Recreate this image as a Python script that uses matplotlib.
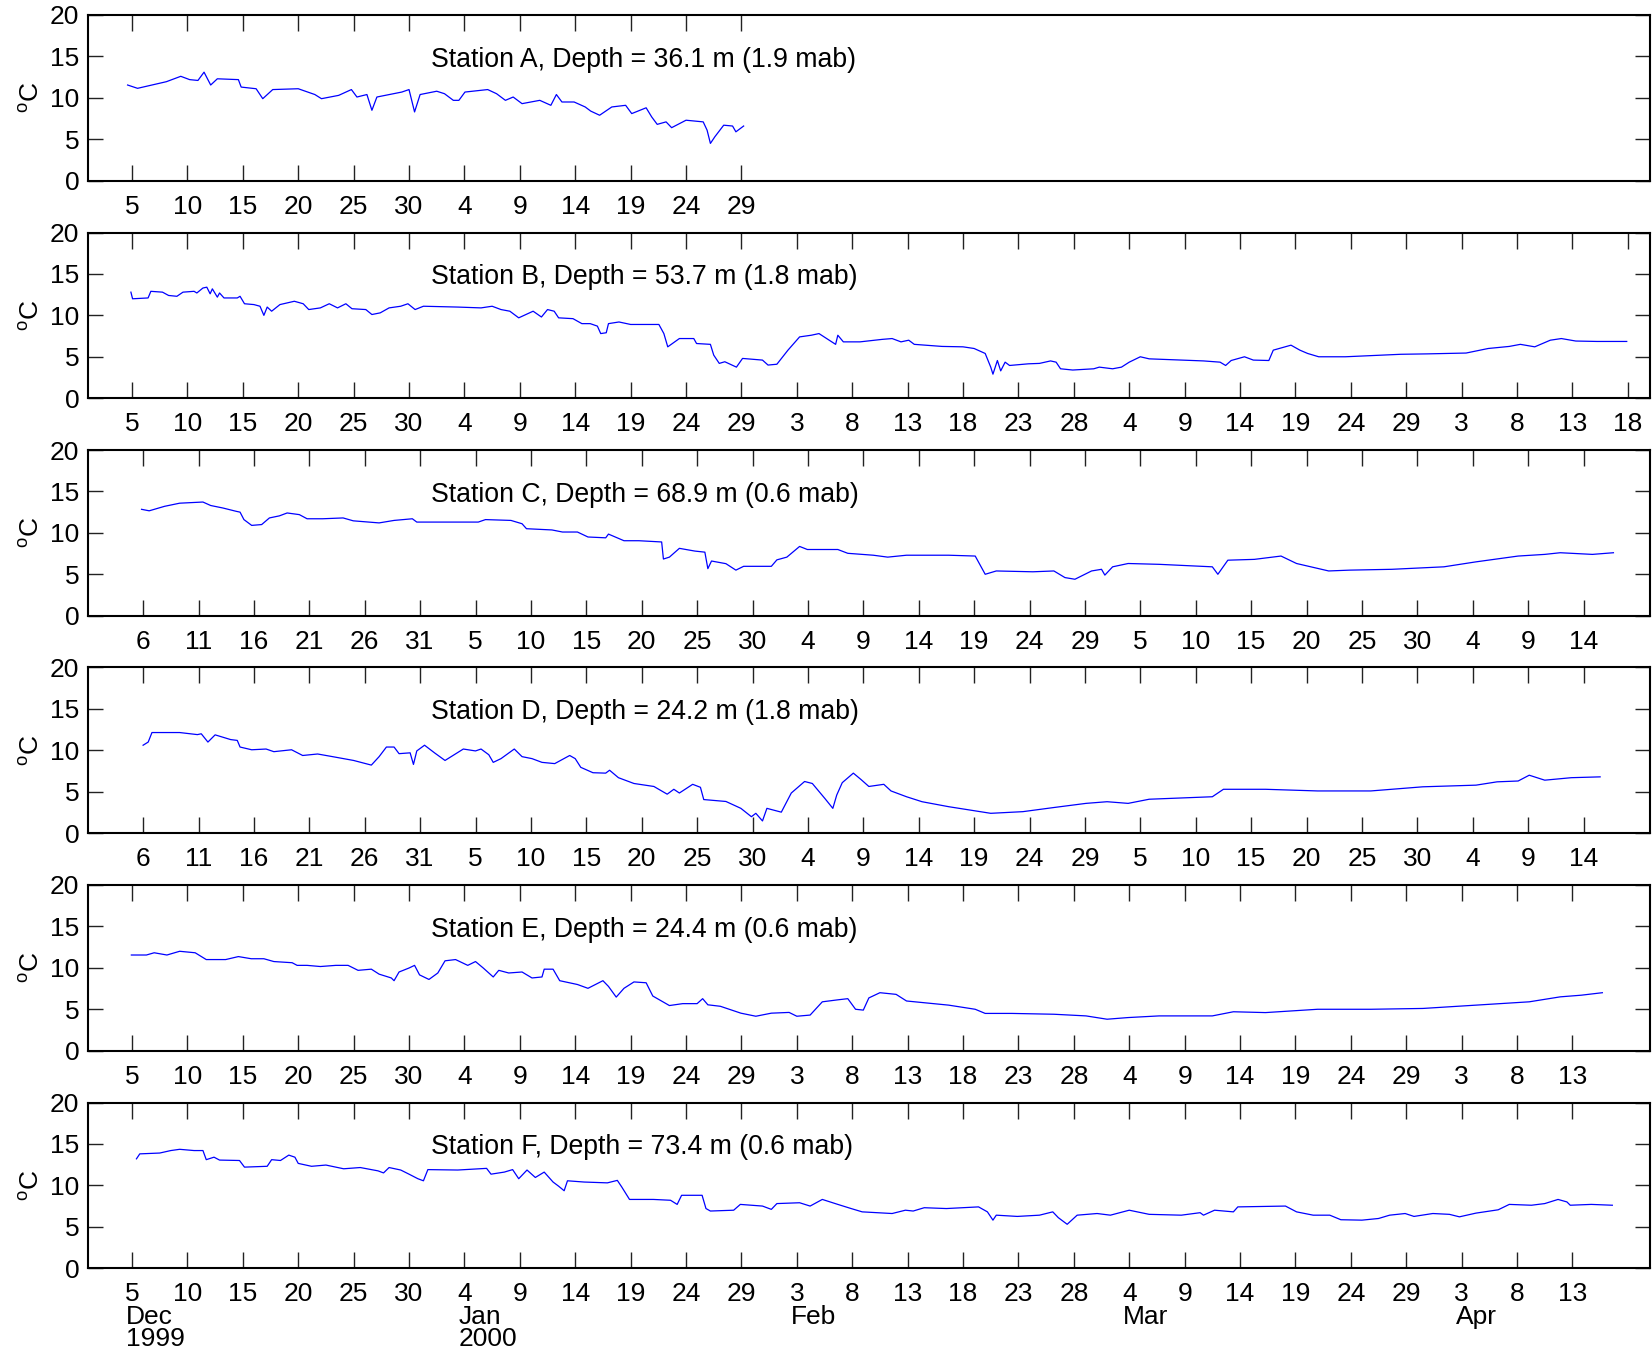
import matplotlib
matplotlib.use('Agg')
import matplotlib.pyplot as plt
import matplotlib.dates as mdates
import numpy as np

plt.rcParams['font.family'] = ['Liberation Sans', 'DejaVu Sans']
plt.rcParams['mathtext.fontset'] = 'custom'
plt.rcParams['mathtext.rm'] = 'Liberation Sans'

# ---------------- data (day offsets from 1 Dec 1999, temperature degC) -------------
titles = ['Station A, Depth = 36.1 m (1.9 mab)',
          'Station B, Depth = 53.7 m (1.8 mab)',
          'Station C, Depth = 68.9 m (0.6 mab)',
          'Station D, Depth = 24.2 m (1.8 mab)',
          'Station E, Depth = 24.4 m (0.6 mab)',
          'Station F, Depth = 73.4 m (0.6 mab)']

a_days = [3.6, 4.5, 7.1, 8.4, 9.2, 9.95, 10.5, 11.1, 11.7, 13.6, 13.85, 15.2, 15.8, 16.7, 19.0,
          20.5, 21.1, 22.65, 23.8, 24.3, 25.2, 25.65, 26.1, 28.35, 29.0, 29.5, 30.0, 31.5, 32.2,
          33.0, 33.5, 34.05, 36.1, 36.9, 37.7, 38.4, 39.2, 40.8, 41.8, 42.3, 42.8, 43.9, 44.9,
          45.4, 46.2, 47.3, 48.55, 49.1, 50.4, 50.9, 51.4, 52.2, 52.7, 54.0, 55.55, 55.9, 56.2,
          56.6, 57.4, 58.2, 58.5, 59.2]
a_temp = [11.55, 11.15, 11.95, 12.6, 12.2, 12.1, 13.1, 11.55, 12.3, 12.2, 11.3, 11.1, 9.9, 11.0, 11.1,
          10.4, 9.9, 10.3, 11.0, 10.1, 10.4, 8.5, 10.1, 10.7, 11.0, 8.3, 10.4, 10.8, 10.5,
          9.7, 9.7, 10.7, 11.0, 10.5, 9.7, 10.1, 9.3, 9.7, 9.1, 10.4, 9.5, 9.5, 8.9,
          8.4, 7.9, 8.9, 9.1, 8.1, 8.8, 7.7, 6.8, 7.1, 6.4, 7.3, 7.1, 6.1, 4.5,
          5.3, 6.7, 6.6, 5.9, 6.6]

b_days = [3.9, 4.05, 5.45, 5.7, 6.75, 7.3, 8.05, 8.6, 9.6, 9.85, 10.4, 10.75, 11.05, 11.25, 11.7,
          11.9, 12.3, 13.5, 13.75, 14.15, 15.0, 15.55, 15.9, 16.2, 16.6, 17.35, 18.65, 19.45,
          19.95, 21.0, 21.8, 22.55, 23.3, 23.85, 25.1, 25.65, 26.4, 27.2, 28.25, 28.9, 29.55,
          30.3, 33.4, 35.5, 36.5, 37.3, 38.1, 38.9, 40.2, 40.95, 41.5, 42.1, 42.5, 43.8, 44.6,
          45.35, 46.0, 46.3, 46.8, 47.0, 47.95, 49.0, 51.55, 52.0, 52.35, 53.4, 54.7, 54.95,
          56.2, 56.5, 57.0, 57.5, 58.55, 59.1, 60.9, 61.4, 62.2, 63.2, 64.25, 65.3, 66.0, 66.7,
          67.5, 67.7, 68.2, 69.7, 71.7, 72.6, 73.4, 74.1, 74.6, 77.1, 79.0, 80.0, 81.0, 81.5,
          81.7, 82.1, 82.4, 82.8, 83.2, 84.9, 85.9, 86.9, 87.4, 87.8, 88.9, 90.8, 91.3, 92.5,
          93.3, 94.0, 95.0, 95.8, 98.7, 100.7, 102.2, 102.7, 103.2, 104.4, 105.2, 106.6, 107.0,
          108.6, 109.4, 110.1, 111.1, 113.5, 116.0, 118.5, 120.9, 124.4, 126.4, 128.3, 129.3,
          130.6, 132.0, 133.0, 134.3, 136.2, 138.9]
b_temp = [12.8, 12.0, 12.1, 12.9, 12.8, 12.4, 12.3, 12.8, 12.9, 12.7, 13.3, 13.4, 12.6, 13.2, 12.2,
          12.7, 12.1, 12.1, 12.3, 11.4, 11.3, 11.1, 10.0, 11.0, 10.5, 11.3, 11.7, 11.4,
          10.7, 10.9, 11.4, 10.9, 11.4, 10.8, 10.7, 10.1, 10.3, 10.9, 11.1, 11.4, 10.7,
          11.1, 11.0, 10.9, 11.1, 10.7, 10.5, 9.7, 10.5, 9.8, 10.7, 10.5, 9.7, 9.6, 9.0,
          9.0, 8.7, 7.8, 7.9, 9.0, 9.2, 8.9, 8.9, 7.8, 6.2, 7.2, 7.2, 6.6,
          6.5, 5.2, 4.2, 4.4, 3.75, 4.8, 4.6, 4.0, 4.1, 5.8, 7.4, 7.6, 7.8, 7.2,
          6.5, 7.6, 6.8, 6.8, 7.1, 7.2, 6.8, 7.0, 6.5, 6.25, 6.2, 6.0, 5.4, 3.75,
          2.9, 4.55, 3.3, 4.35, 3.95, 4.15, 4.2, 4.5, 4.35, 3.55, 3.4, 3.55, 3.75, 3.55,
          3.75, 4.35, 5.0, 4.75, 4.6, 4.5, 4.35, 3.95, 4.55, 5.0, 4.6, 4.55, 5.8,
          6.4, 5.8, 5.4, 5.0, 5.0, 5.15, 5.3, 5.35, 5.45, 6.0, 6.25, 6.5,
          6.2, 7.0, 7.2, 6.9, 6.85, 6.85]

c_days = [4.86, 5.55, 6.93, 8.3, 10.4, 11.1, 12.2, 13.4, 13.75, 14.1, 14.8, 15.7, 16.4, 17.3, 18.0,
          19.1, 19.8, 21.2, 23.05, 23.97, 26.3, 27.65, 29.3, 29.7, 32.25, 35.25, 35.9, 38.2,
          39.2, 39.6, 41.9, 42.85, 44.2, 45.15, 46.75, 47.0, 48.4, 49.75, 51.8, 51.96, 52.5,
          53.4, 54.8, 55.7, 55.97, 56.3, 57.6, 58.5, 59.2, 61.7, 62.2, 63.1, 64.25, 64.95,
          67.7, 68.6, 70.9, 72.2, 73.9, 77.7, 80.1, 81.0, 82.0, 85.3, 87.2, 88.2, 89.1, 90.6,
          91.5, 91.8, 92.5, 93.9, 96.7, 101.5, 102.0, 102.9, 105.3, 107.7, 109.1, 112.0, 113.9,
          117.7, 122.4, 125.3, 129.1, 131.5, 132.9, 135.8, 137.7]
c_temp = [12.84, 12.66, 13.2, 13.58, 13.72, 13.3, 13.0, 12.6, 12.5, 11.6, 10.9, 11.0, 11.8, 12.05, 12.4,
          12.2, 11.7, 11.7, 11.8, 11.45, 11.2, 11.5, 11.7, 11.3, 11.3, 11.3, 11.6, 11.5,
          11.1, 10.5, 10.35, 10.1, 10.1, 9.5, 9.4, 9.85, 9.05, 9.05, 8.9, 6.84, 7.07,
          8.13, 7.8, 7.67, 5.68, 6.6, 6.28, 5.5, 5.96, 5.96, 6.74, 7.07, 8.36, 7.99,
          7.99, 7.53, 7.3, 7.07, 7.3, 7.3, 7.2, 5.0, 5.4, 5.3, 5.4, 4.6, 4.4, 5.4,
          5.6, 4.9, 5.9, 6.3, 6.2, 5.9, 5.0, 6.7, 6.8, 7.2, 6.3, 5.4, 5.5,
          5.6, 5.9, 6.5, 7.2, 7.4, 7.6, 7.4, 7.6]

d_days = [5.0, 5.46, 5.8, 8.3, 9.9, 10.25, 10.85, 11.5, 12.9, 13.5, 13.75, 14.8, 16.1, 16.8, 18.4,
          19.4, 20.75, 22.1, 24.0, 25.6, 26.3, 26.96, 27.65, 28.1, 29.1, 29.4, 29.7, 30.4, 31.3,
          32.25, 33.9, 35.0, 35.5, 36.2, 36.6, 37.3, 38.5, 39.2, 40.1, 41.0, 42.15, 43.5, 44.0,
          44.5, 45.6, 46.75, 47.1, 47.9, 49.3, 51.1, 52.3, 52.9, 53.4, 54.6, 55.3, 55.6, 57.6,
          58.95, 59.9, 60.3, 60.9, 61.3, 61.95, 62.6, 63.5, 64.7, 65.4, 66.55, 67.25, 67.6, 68.1,
          69.1, 69.8, 70.5, 71.85, 72.5, 73.9, 75.3, 77.7, 79.6, 81.5, 84.4, 87.2, 90.1, 92.0,
          93.9, 95.8, 101.5, 102.5, 106.3, 111.0, 115.8, 120.5, 125.3, 127.2, 129.1, 130.1,
          131.5, 133.9, 136.5]
d_temp = [10.62, 11.0, 12.15, 12.15, 11.9, 12.0, 11.0, 11.87, 11.3, 11.2, 10.4, 10.07, 10.16, 9.84, 10.07,
          9.38, 9.56, 9.24, 8.78, 8.22, 9.24, 10.4, 10.4, 9.6, 9.7, 8.3, 9.93, 10.62, 9.7,
          8.78, 10.16, 9.93, 10.16, 9.47, 8.55, 9.0, 10.16, 9.24, 9.0, 8.55, 8.4, 9.38, 9.0,
          7.95, 7.3, 7.25, 7.6, 6.7, 6.0, 5.64, 4.71, 5.3, 4.85, 5.9, 5.54, 4.06, 3.83,
          3.0, 1.99, 2.4, 1.48, 3.0, 2.77, 2.54, 4.85, 6.24, 6.0, 4.16, 3.0, 4.6, 6.1,
          7.25, 6.47, 5.64, 5.9, 5.1, 4.4, 3.8, 3.2, 2.8, 2.4, 2.6, 3.1, 3.6, 3.8,
          3.6, 4.1, 4.4, 5.3, 5.3, 5.1, 5.1, 5.6, 5.8, 6.2, 6.3, 7.0,
          6.4, 6.7, 6.8]

e_days = [3.94, 5.3, 6.0, 7.15, 8.3, 9.7, 10.7, 12.45, 13.6, 14.76, 15.9, 16.8, 18.45, 18.9, 19.8,
          21.0, 22.4, 23.5, 24.4, 25.6, 26.3, 27.4, 27.65, 28.1, 29.0, 29.5, 29.95, 30.8, 31.6,
          32.25, 33.2, 34.3, 35.0, 35.7, 36.6, 37.1, 38.0, 39.2, 40.1, 41.0, 41.2, 42.0, 42.6,
          44.2, 45.15, 46.5, 47.0, 47.7, 48.4, 49.3, 50.4, 51.0, 52.5, 53.7, 55.0, 55.5, 55.97,
          57.1, 58.95, 60.3, 61.7, 63.3, 64.0, 65.2, 66.3, 67.7, 68.6, 69.3, 70.0, 70.5, 71.5,
          72.96, 73.9, 77.7, 80.1, 81.0, 83.4, 87.2, 90.1, 92.0, 93.9, 96.7, 101.5, 103.4, 106.3,
          111.0, 115.8, 120.5, 125.3, 130.1, 132.9, 134.8, 136.7]
e_temp = [11.55, 11.55, 11.82, 11.55, 12.0, 11.82, 11.0, 11.0, 11.36, 11.1, 11.1, 10.76, 10.62, 10.3, 10.3,
          10.16, 10.3, 10.3, 9.7, 9.84, 9.24, 8.78, 8.45, 9.5, 9.98, 10.3, 9.15, 8.6, 9.38,
          10.85, 11.0, 10.3, 10.76, 9.98, 8.9, 9.7, 9.38, 9.5, 8.78, 8.9, 9.84, 9.84, 8.45,
          7.99, 7.53, 8.45, 7.76, 6.47, 7.53, 8.3, 8.2, 6.6, 5.45, 5.68, 5.68, 6.28, 5.54,
          5.36, 4.53, 4.16, 4.53, 4.62, 4.16, 4.3, 5.9, 6.14, 6.28, 5.0, 4.9, 6.37, 7.0,
          6.8, 6.0, 5.5, 5.0, 4.5, 4.5, 4.4, 4.2, 3.8, 4.0, 4.2, 4.2, 4.7, 4.6,
          5.0, 5.0, 5.1, 5.5, 5.9, 6.5, 6.7, 7.0]

f_days = [4.4, 4.7, 6.5, 7.5, 8.3, 9.6, 10.4, 10.7, 11.4, 11.9, 13.7, 14.15, 16.2, 16.6, 17.4,
          18.15, 18.7, 19.0, 20.2, 21.5, 23.1, 24.6, 26.2, 26.7, 27.2, 28.25, 29.0, 29.8, 30.3,
          30.7, 33.4, 36.0, 36.4, 37.6, 38.35, 38.9, 39.65, 40.4, 41.2, 42.0, 42.5, 43.0, 43.3,
          44.8, 46.9, 47.8, 48.2, 48.9, 51.05, 52.6, 53.2, 53.6, 55.45, 55.8, 56.2, 58.3, 58.9,
          60.9, 61.7, 62.2, 64.25, 65.2, 66.3, 67.7, 68.9, 69.9, 72.6, 73.8, 74.5, 75.5, 77.5,
          80.4, 81.2, 81.7, 82.0, 83.9, 85.9, 87.1, 87.6, 88.4, 89.3, 91.1, 92.3, 94.0, 95.8,
          98.7, 100.4, 100.7, 101.7, 103.4, 103.8, 108.1, 109.1, 110.6, 112.1, 113.1, 115.0,
          116.5, 117.5, 118.9, 119.7, 121.4, 122.9, 123.8, 125.3, 127.3, 128.3, 130.3, 131.5,
          132.7, 133.5, 133.8, 135.7, 137.6]
f_temp = [13.2, 13.8, 13.9, 14.2, 14.35, 14.2, 14.2, 13.1, 13.4, 13.05, 13.0, 12.2, 12.3, 13.1, 13.0,
          13.65, 13.4, 12.65, 12.3, 12.45, 12.0, 12.15, 11.75, 11.5, 12.15, 11.85, 11.35, 10.8, 10.55,
          11.9, 11.85, 12.05, 11.35, 11.6, 11.9, 10.8, 11.85, 10.95, 11.6, 10.4, 9.9, 9.35, 10.55,
          10.4, 10.3, 10.6, 9.8, 8.3, 8.3, 8.2, 7.7, 8.8, 8.8, 7.2, 6.9, 7.0, 7.7,
          7.5, 7.1, 7.8, 7.9, 7.5, 8.3, 7.7, 7.2, 6.8, 6.6, 7.0, 6.9, 7.3, 7.2,
          7.4, 6.8, 5.8, 6.4, 6.25, 6.4, 6.8, 6.1, 5.3, 6.4, 6.6, 6.4, 7.0, 6.5,
          6.4, 6.7, 6.4, 7.0, 6.8, 7.4, 7.5, 6.8, 6.4, 6.4, 5.85, 5.8,
          6.0, 6.4, 6.6, 6.25, 6.6, 6.5, 6.2, 6.65, 7.05, 7.7, 7.6, 7.8,
          8.3, 8.0, 7.6, 7.7, 7.6]

series_days = [a_days, b_days, c_days, d_days, e_days, f_days]
series_temp = [a_temp, b_temp, c_temp, d_temp, e_temp, f_temp]

# x-tick ranges (every 5 days) for each panel
tick_first = ['1999-12-05', '1999-12-05', '1999-12-06', '1999-12-06', '1999-12-05', '1999-12-05']
tick_last = ['2000-01-29', '2000-04-18', '2000-04-14', '2000-04-14', '2000-04-13', '2000-04-13']
tick_step_days = 5

month_ticks = ['1999-12-05', '2000-01-04', '2000-02-03', '2000-03-04', '2000-04-03']
month_names = ['Dec', 'Jan', 'Feb', 'Mar', 'Apr']
year_ticks = ['1999-12-05', '2000-01-04']
year_names = ['1999', '2000']

y_ticks = [0, 5, 10, 15, 20]
x_start = '1999-12-01'
x_end = '2000-04-20'
label_date = '2000-01-01'
label_temp = 14.6

# ---------------- figure -------------------------------------------------------------
W, H = 1652, 1352
fig = plt.figure(figsize=(W / 100, H / 100), dpi=100)
base = mdates.datestr2num(x_start)

left_px, right_px = 87.7, 1650.0
first_bottom_px, step_px, height_px = 180.7, 217.5, 165.7
FS = 19.0
FS_T = 19.2

for i in range(6):
    bottom_px = first_bottom_px + step_px * i
    ax = fig.add_axes([left_px / W, 1 - bottom_px / H,
                       (right_px - left_px) / W, height_px / H])
    x = base + np.array(series_days[i])
    ax.plot(x, series_temp[i], color='#0000ff', lw=0.9)
    ax.set_xlim(mdates.datestr2num(x_start), mdates.datestr2num(x_end))
    ax.set_ylim(0, 20)
    ax.set_yticks(y_ticks)
    ax.set_yticklabels([str(v) for v in y_ticks])
    t0 = mdates.datestr2num(tick_first[i])
    t1 = mdates.datestr2num(tick_last[i])
    ticks = np.arange(t0, t1 + 0.5, tick_step_days)
    ax.set_xticks(ticks)
    ax.set_xticklabels([str(mdates.num2date(t).day) for t in ticks])
    ax.tick_params(axis='both', direction='in', top=True, right=True,
                   width=1.0, labelsize=FS, color='#222222')
    ax.tick_params(axis='x', length=11.2, pad=10.2)
    ax.tick_params(axis='y', length=11.0, pad=6.0)
    for sp in ax.spines.values():
        sp.set_linewidth(1.5)
    ax.set_ylabel(r'$^{\mathrm{o}}\mathrm{C}$', fontsize=FS)
    ax.yaxis.set_label_coords(-0.028, 0.5)
    ax.text(mdates.datestr2num(label_date), label_temp, titles[i], fontsize=FS_T,
            ha='left', va='center')
    if i == 5:
        for d, name in zip(month_ticks, month_names):
            ax.annotate(name, xy=(mdates.datestr2num(d), 0), xycoords=('data', 'axes fraction'),
                        xytext=(-6, -37), textcoords='offset pixels',
                        ha='left', va='top', fontsize=FS)
        for d, name in zip(year_ticks, year_names):
            ax.annotate(name, xy=(mdates.datestr2num(d), 0), xycoords=('data', 'axes fraction'),
                        xytext=(-6, -59), textcoords='offset pixels',
                        ha='left', va='top', fontsize=FS)

fig.savefig('out.png', dpi=100)
